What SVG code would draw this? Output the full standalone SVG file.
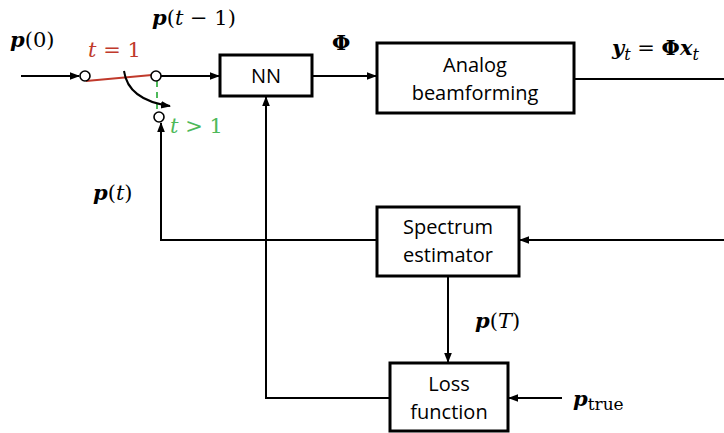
<svg xmlns="http://www.w3.org/2000/svg" width="724" height="433" viewBox="0 0 724 433">
<style>
.box{fill:#fff;stroke:#000;stroke-width:3}
.lbl{font-family:"Open Sans","Liberation Sans",sans-serif;font-size:20px;fill:#000;text-anchor:middle}
.c{fill:none;stroke:#000;stroke-width:2}
.m{font-family:"DejaVu Serif","Liberation Serif",serif;font-size:21px;fill:#000}
.bi{font-weight:bold;font-style:italic}
.b{font-weight:bold}
.i{font-style:italic}
.dot{fill:#fff;stroke:#000;stroke-width:1.6}
</style>
<defs>
<marker id="ah" markerWidth="10" markerHeight="10" refX="9" refY="5" orient="auto" markerUnits="userSpaceOnUse">
<path d="M0,1.2 L10,5 L0,8.8 Z" fill="#000"/>
</marker>
</defs>
<g id="connectors">
<line class="c" x1="21" y1="76" x2="79" y2="76" marker-end="url(#ah)"/>
<line x1="86" y1="81" x2="152" y2="75" stroke="#C0392B" stroke-width="2"/>
<line class="c" x1="161" y1="76" x2="219" y2="76" marker-end="url(#ah)"/>
<line x1="157" y1="81" x2="157" y2="112" stroke="#4DB95A" stroke-width="2" stroke-dasharray="6,5"/>
<path class="c" d="M124,71 Q128,100 170,106" marker-end="url(#ah)"/>
<line class="c" x1="312" y1="76" x2="376" y2="76" stroke-width="1.6" marker-end="url(#ah)"/>
<line class="c" x1="574" y1="79" x2="724" y2="79"/>
<line class="c" x1="724" y1="240" x2="520" y2="240" marker-end="url(#ah)"/>
<polyline class="c" points="377,240 161,240 161,123" marker-end="url(#ah)"/>
<line class="c" x1="448" y1="276" x2="448" y2="362" marker-end="url(#ah)"/>
<line class="c" x1="562" y1="398" x2="509" y2="398" marker-end="url(#ah)"/>
<polyline class="c" points="390,398 266,398 266,97" marker-end="url(#ah)"/>
</g>
<g id="switch">
<circle class="dot" cx="85" cy="76" r="5"/>
<circle class="dot" cx="156" cy="76" r="5"/>
<circle class="dot" cx="159" cy="117" r="5"/>
</g>
<g id="nn">
<rect class="box" x="220" y="55" width="92" height="41"/>
<text class="lbl" x="266" y="83">NN</text>
</g>
<g id="analog">
<rect class="box" x="377" y="43" width="197" height="70"/>
<text class="lbl" x="475" y="72">Analog</text>
<text class="lbl" x="475" y="100">beamforming</text>
</g>
<g id="spectrum">
<rect class="box" x="377" y="207" width="142" height="69"/>
<text class="lbl" x="448" y="234">Spectrum</text>
<text class="lbl" x="448" y="262">estimator</text>
</g>
<g id="loss">
<rect class="box" x="390" y="363" width="118" height="68"/>
<text class="lbl" x="449" y="391">Loss</text>
<text class="lbl" x="449" y="419">function</text>
</g>
<g id="labels">
<text class="m" x="10" y="47"><tspan class="bi">p</tspan>(0)</text>
<text class="m" x="152" y="25"><tspan class="bi">p</tspan>(<tspan class="i">t</tspan> − 1)</text>
<text class="m b" x="332" y="50">Φ</text>
<text class="m" x="612" y="55"><tspan class="bi">y</tspan><tspan class="i" font-size="16" dy="5">t</tspan><tspan dy="-5"> = </tspan><tspan class="b">Φ</tspan><tspan class="bi">x</tspan><tspan class="i" font-size="16" dy="5">t</tspan></text>
<text class="m" x="88" y="57" style="fill:#C0392B"><tspan class="i">t</tspan> = 1</text>
<text class="m" x="170" y="133" style="fill:#4DB95A"><tspan class="i">t</tspan> &gt; 1</text>
<text class="m" x="93" y="200"><tspan class="bi">p</tspan>(<tspan class="i">t</tspan>)</text>
<text class="m" x="475" y="328"><tspan class="bi">p</tspan>(<tspan class="i">T</tspan>)</text>
<text class="m" x="573" y="406"><tspan class="bi">p</tspan><tspan font-size="17" dy="4">true</tspan></text>
</g>
</svg>
